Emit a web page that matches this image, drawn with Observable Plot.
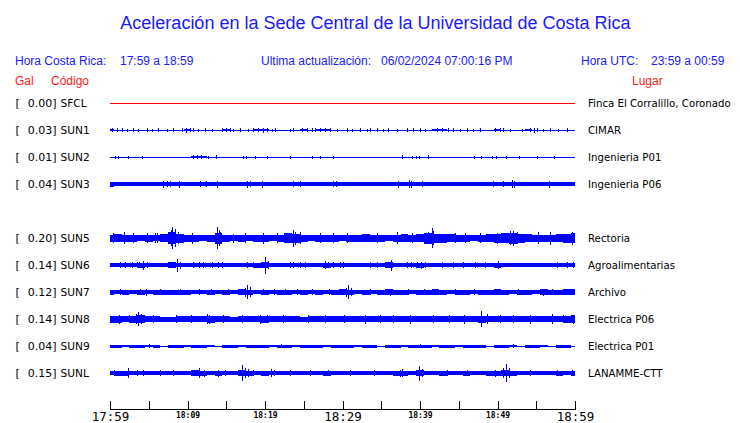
<!DOCTYPE html>
<html><head><meta charset="utf-8">
<script src="https://cdn.jsdelivr.net/npm/d3@7"></script>
<script src="https://cdn.jsdelivr.net/npm/@observablehq/plot@0.6"></script>
<style>
html,body{margin:0;padding:0;background:#fff;}
body{width:740px;height:423px;overflow:hidden;position:relative;}
#head{position:relative;height:90px;font-family:"Liberation Sans",Arial,sans-serif;}
.t{position:absolute;white-space:pre;line-height:1;}
.b{color:#1a1aff;font-size:12px;}
.r{color:#ff1a1a;font-size:12px;}
#chart svg{display:block;}
#chart svg path, #chart svg line, #chart svg rect{shape-rendering:crispEdges;}
</style></head><body>
<div id="head">
  <div class="t" style="left:0;width:751px;text-align:center;top:14px;font-size:18px;color:#1a1aff">Aceleración en la Sede Central de la Universidad de Costa Rica</div>
  <div class="t b" style="left:15px;top:55px">Hora Costa Rica:</div>
  <div class="t b" style="left:120px;top:55px">17:59 a 18:59</div>
  <div class="t b" style="left:261px;top:55px">Ultima actualización:</div>
  <div class="t b" style="left:381px;top:55px">06/02/2024 07:00:16 PM</div>
  <div class="t b" style="left:581px;top:55px">Hora UTC:</div>
  <div class="t b" style="left:651px;top:55px">23:59 a 00:59</div>
  <div class="t r" style="left:15px;top:75px">Gal</div>
  <div class="t r" style="left:51px;top:75px">Código</div>
  <div class="t r" style="left:632px;top:75px">Lugar</div>
</div>
<div id="chart"></div>
<script>
// ---------- data ----------
const codes  = ["SFCL","SUN1","SUN2","SUN3","SUN5","SUN6","SUN7","SUN8","SUN9","SUNL"];
const gals   = ["0.00","0.03","0.01","0.04","0.20","0.14","0.12","0.14","0.04","0.15"];
const places = ["Finca El Corralillo, Coronado","CIMAR","Ingenieria P01","Ingenieria P06","Rectoria","Agroalimentarias","Archivo","Electrica P06","Electrica P01","LANAMME-CTT"];
const slots  = ["SFCL","SUN1","SUN2","SUN3","","SUN5","SUN6","SUN7","SUN8","SUN9","SUNL"];
const startLabel = "17:59", endLabel = "18:59";
const bigLabels   = ["17:59","18:29","18:59"];
const smallLabels = ["18:09","18:19","18:39","18:49"];

// band half-widths, one per minute (0..60)
const envSUN1 = [1,0,0,0,0,0,0,0,0,0,1,0,0,0,0,1,0,0,0,1,1,0,0,0,0,1,0,1,1,0,0,0,0,0,0,0,0,0,0,0,0,0,1,1,0,0,0,0,0,0,1,0,0,0,1,0,0,0,0,0,0];
const envSUN2 = [0,0,0,0,0,0,0,0,0,0,0,1,1,0,0,0,0,0,0,0,0,0,0,0,0,0,0,0,0,0,0,0,0,0,0,0,0,0,0,0,0,0,0,0,0,0,0,0,0,0,0,0,0,0,0,0,0,0,0,0,0];
const envSUN3 = [2.5,2,2,2,2,2,2,2,2,2,2,2,2,2,2,2,2,2,2,2,2,2,2,2,2,2,2,2,2,2,2,2,2,2,2,2,2,2,2,2,2,2,2,2,2,2,2,2,2,2,2,2,2,2,2,2,2,2,2,2,2];
const envSUN5 = [3.5,4,3.5,3.5,3,3.5,3,4,6,4.5,3.5,3.5,3,3.5,5.5,3.5,3,3.5,3,3.5,3.5,3,3.5,5,4.5,3.5,3,3.5,3.5,3.5,3,3.5,3.5,4,3.5,3.5,3,3.5,4,3.5,4,5.5,4.5,4.5,4,3.5,3.5,3,3.5,4,4.5,5,5.5,4.5,4,3.5,3.5,3.5,4,4.5,5];
const envSUN6 = [2,2,2,2,2.5,2,2,2,3,2,2,2,2,2,2,2,2,2,2,2.5,3,2,2,2,2,2,2,2,2.5,2,2,2,2,2,2,2,3,2,2,2,2.5,2,2,2,2,2,2,2,2,2,2.5,2,2,2,2,2,2,2,2,2,2];
const envSUN7 = [2.5,2,2.5,2,2.5,2,2.5,2.5,2.5,2.5,2.5,2,2,2.5,2,2.5,2,3,2.5,2,2.5,2,2.5,2.5,2,2.5,2,2.5,2,2.5,3,2.5,2,2.5,2,2.5,3,2.5,2.5,2,2.5,2.5,3,2.5,2,2.5,2.5,2,2.5,2.5,3,2.5,2,2.5,2.5,2,3,2.5,2.5,3,3];
const envSUN8 = [3.5,3.5,3,3.5,4,3,3,2.5,2.5,3,3,3,3,3.5,3,3,2.5,3,3,3,3.5,3,3,3,3,2.5,3,3,3,3,3,3,3,3,3,3,3,3,3,3,3,3,3,3,3,3,3,3,3.5,3,3,3,3,3,3,3,3,3,3,3.5,4];
const envSUN9 = [1.5,1.5,1,1.5,1.5,1,1.5,0.5,1.5,1.5,1,1.5,1.5,1,0.5,1.5,1.5,1,1.5,1.5,1.5,1,1.5,1.5,1,1.5,1.5,1.5,1,1.5,1.5,1.5,1,1.5,1.5,0.5,1.5,1.5,1,1.5,1.5,1.5,1,1.5,1.5,1,1.5,1.5,1.5,0.5,1.5,1.5,1,0.5,1.5,1.5,1,0.5,1.5,1.5,0.5];
const envSUNL = [2,2.5,2.5,2,2,2,2,2,2,2,2,3,2.5,2,2.5,2,2,3,2.5,2,2.5,2,2,2,2,2,2,2,2.5,2,2,2,2,2,2,2,2,2.5,2.5,2,3,2,2,2.5,2,2,2.5,2,2,2.5,2.5,3,2.5,2,2,2,2,2,2.5,2,2.5];

// spikes: [minute, half amplitude]
const spikesSUN1 = [[0.3,2],[0.9,2],[1.5,2],[2.2,1.5],[3.0,2],[3.6,1.5],[4.8,2],[5.4,1.5],[6.2,2],[7.4,1.5],[8.1,2],[9.3,2],[9.8,2.5],[10.3,2],[10.7,2],[11.4,1.5],[12.3,2],[13.2,1.5],[14.5,2],[15.0,2],[15.5,2],[15.9,1.5],[16.8,2],[17.8,1.5],[18.5,2],[19.1,2],[19.7,2.5],[20.3,2],[20.9,1.5],[21.3,2],[23.2,1.5],[23.6,2],[24.8,2],[25.4,2],[26.1,2],[26.5,2],[27.1,2],[27.7,2],[28.4,2],[29.3,1.5],[30.6,2],[31.2,1.5],[32.3,2],[33.2,1.5],[33.5,2],[34.5,2],[35.2,1.5],[35.9,2],[37.0,1.5],[38.3,2],[39.1,2],[40.0,2],[40.6,1.5],[42.2,2],[42.8,2],[43.6,2],[44.3,2],[45.2,1.5],[46.1,2],[46.8,1.5],[47.7,2],[49.7,2],[50.3,2],[50.7,2],[51.6,1.5],[53.2,1.5],[54.2,2],[54.7,2.5],[55.1,2],[55.9,1.5],[56.8,2],[57.8,1.5],[59.0,2]];
const spikesSUN2 = [[0.6,1.5],[1.0,1.5],[2.3,1.5],[4.1,1.5],[10.7,2],[11.2,2],[11.7,2],[12.7,1.5],[13.7,2],[17.1,1.5],[17.6,1.5],[18.7,1.5],[20.3,1.5],[23.2,1.5],[26.0,1.5],[27.1,1.5],[28.8,1.5],[37.7,2],[39.0,1.5],[39.5,1.5],[39.9,1.5],[41.0,2],[47.0,1.5],[47.9,1.5],[49.3,1.5],[49.8,1.5],[51.1,1.5],[52.8,1.5],[55.1,1.5],[57.3,1.5]];
const spikesSUN3 = [[6.8,3.5],[7.3,3],[7.7,3],[8.9,3.5],[11.6,3],[12.4,3],[13.8,3.5],[17.7,3.5],[18.0,3],[19.6,3.5],[23.6,3],[24.5,3],[28.8,3],[29.1,3],[37.2,3.5],[38.6,4],[38.8,3.5],[40.3,3],[49.4,3],[50.7,3],[51.9,4],[52.1,3.5],[56.6,3.5]];
const spikesSUN5 = [[0.4,5],[1.8,6],[3.0,5],[4.8,5],[5.8,5],[6.1,5],[7.9,8],[8.0,11],[8.4,9],[8.8,6],[10.6,5.5],[13.8,11],[14.0,8],[14.2,6],[15.9,4.5],[17.4,5],[19.8,5.5],[21.5,5],[23.6,8.5],[23.9,6.5],[24.5,6],[27.1,5],[28.8,5],[30.6,5],[34.5,5],[37.0,6],[39.0,5],[41.0,6],[41.5,10],[41.7,7],[44.5,5],[45.8,5],[47.7,5],[49.9,5.5],[51.6,7],[52.0,7.5],[52.5,6],[55.2,6],[56.8,6.5],[59.6,6.5]];
const spikesSUN6 = [[1.3,3],[1.9,3],[2.8,3],[3.5,3],[3.7,3],[4.3,4.5],[4.8,3],[7.5,3],[8.6,6.5],[9.0,3.5],[10.7,3],[11.5,3],[12.0,3],[13.2,3],[13.9,3],[14.5,3],[17.7,3],[18.5,3],[20.0,8.5],[20.4,4],[23.2,3],[23.6,3],[24.5,3],[25.2,3],[27.7,4],[28.1,3],[28.8,3],[29.7,3],[30.1,3],[33.5,3],[34.5,3],[36.3,5.5],[38.3,3],[38.8,3],[39.6,3],[40.1,3.5],[40.6,3],[42.8,3],[44.3,3],[45.5,3],[47.1,3],[48.4,3],[50.1,4],[57.7,3],[59.0,3],[59.7,3]];
const spikesSUN7 = [[1.3,3],[3.9,3],[4.6,3.5],[6.5,3],[9.0,3],[11.5,3],[13.0,3],[15.2,3],[17.4,4.5],[17.7,7],[18.1,5],[19.7,3],[21.2,3],[22.6,3],[24.1,3],[26.0,3],[28.2,3],[30.4,4.5],[30.7,7],[31.1,4],[33.6,3],[36.1,3.5],[38.5,3],[40.5,3],[42.2,3],[44.5,3],[47.0,3],[50.1,3],[52.6,3],[55.9,3.5],[57.0,3],[59.5,3]];
const spikesSUN8 = [[1.2,4.5],[2.4,4],[3.4,5],[3.6,7],[4.0,5],[5.5,4],[8.5,3.8],[10.5,4],[12.5,5],[12.8,4.5],[14.6,4],[17.0,4],[19.4,4.5],[20.2,4],[22.3,4],[25.5,3.8],[27.8,4],[30.2,4],[32.9,4.5],[34.8,4],[36.5,4],[38.7,4.5],[41.7,4],[43.8,3.8],[45.7,4.5],[47.9,8.3],[48.6,5],[50.3,4],[52.0,4],[54.2,4.5],[57.0,5],[58.4,4],[59.7,4.5]];
const spikesSUN9 = [[5.0,2],[22.0,2],[40.0,2],[52.0,2]];
const spikesSUNL = [[0.5,3],[2.3,5],[3.5,3],[4.3,3],[6.5,3],[8.1,3],[10.7,3],[11.5,5],[12.1,3.5],[13.9,3.5],[14.8,3],[17.0,8],[17.4,5],[17.8,4],[18.5,3],[20.8,4],[21.1,3],[23.2,3],[25.8,3],[28.1,3],[31.0,3],[34.0,3],[37.4,3.5],[37.7,4],[39.9,7.5],[40.3,4],[43.5,3],[46.1,3],[49.7,3.5],[50.7,5],[51.1,9],[51.5,5],[54.2,3],[57.7,3],[59.6,3]];

const envelopes = {SUN1: envSUN1, SUN2: envSUN2, SUN3: envSUN3, SUN5: envSUN5, SUN6: envSUN6, SUN7: envSUN7, SUN8: envSUN8, SUN9: envSUN9, SUNL: envSUNL};
const spikes = {SUN1: spikesSUN1, SUN2: spikesSUN2, SUN3: spikesSUN3, SUN5: spikesSUN5, SUN6: spikesSUN6, SUN7: spikesSUN7, SUN8: spikesSUN8, SUN9: spikesSUN9, SUNL: spikesSUNL};

// ---------- build ----------
const ROW = 27;
const toMin = s => { const [h, m] = s.split(":").map(Number); const [h0, m0] = startLabel.split(":").map(Number); return (h * 60 + m) - (h0 * 60 + m0); };
const traces = codes.map((c, i) => ({code: c, gal: gals[i], place: places[i], base: slots.indexOf(c) * ROW}));
const baseOf = Object.fromEntries(traces.map(t => [t.code, t.base]));
const envRows = [];
for (const [c, arr] of Object.entries(envelopes)) arr.forEach((a, i) => envRows.push({code: c, m: i, lo: baseOf[c] - a, hi: baseOf[c] + a}));
const spikeRows = [];
for (const [c, arr] of Object.entries(spikes)) arr.forEach(([m, a]) => spikeRows.push({code: c, m, lo: baseOf[c] - a, hi: baseOf[c] + a}));

const blue = "#0000ff", red = "#ff0000";
const labelFont = "DejaVu Sans";
const chart = Plot.plot({
  width: 740, height: 333,
  marginLeft: 110, marginRight: 165, marginTop: 0, marginBottom: 14,
  style: {background: "#fff", overflow: "visible"},
  x: {domain: [toMin(startLabel), toMin(endLabel)], axis: null},
  y: {domain: [-ROW / 2 + 0.5, (slots.length - 1) * ROW + ROW * 0.5 + 22.5], reverse: true, axis: null},
  marks: [
    Plot.ruleY(traces, {y: "base", stroke: d => d.code === "SFCL" ? red : blue, strokeWidth: 1}),
    Plot.areaY(envRows, {x: "m", y1: "lo", y2: "hi", z: "code", curve: "step", fill: blue}),
    Plot.ruleX(spikeRows, {x: "m", y1: "lo", y2: "hi", stroke: blue, strokeWidth: 1}),
    Plot.text(traces, {y: "base", frameAnchor: "left", text: () => "[", dx: -95, textAnchor: "start", fontSize: 11, fontFamily: labelFont, fill: "#000"}),
    Plot.text(traces, {y: "base", frameAnchor: "left", text: d => d.gal + "]", dx: -54, textAnchor: "end", fontSize: 11, fontFamily: labelFont, fill: "#000"}),
    Plot.text(traces, {y: "base", frameAnchor: "left", text: "code", dx: -50, textAnchor: "start", fontSize: 10.6, fontFamily: labelFont, fill: "#000"}),
    Plot.text(traces, {y: "base", frameAnchor: "right", text: "place", dx: 12.5, textAnchor: "start", fontSize: 10.2, fontFamily: labelFont, fill: "#000"}),
    Plot.frame({anchor: "bottom", stroke: "#000"}),
    Plot.tickX(d3.range(toMin(startLabel), toMin(endLabel) + 1, 5), {x: d => d, insetTop: 311, stroke: "#000"}),
    Plot.text(bigLabels, {x: toMin, text: d => d, frameAnchor: "bottom", lineAnchor: "top", dy: 2.5, fontSize: 12.5, fontFamily: "DejaVu Sans Mono", fill: "#000"}),
    Plot.text(smallLabels, {x: toMin, text: d => d, frameAnchor: "bottom", lineAnchor: "top", dy: 3, fontSize: 8, fontWeight: "bold", fontFamily: "DejaVu Sans Mono", fill: "#000"})
  ]
});
document.getElementById("chart").appendChild(chart);
</script>
</body></html>
